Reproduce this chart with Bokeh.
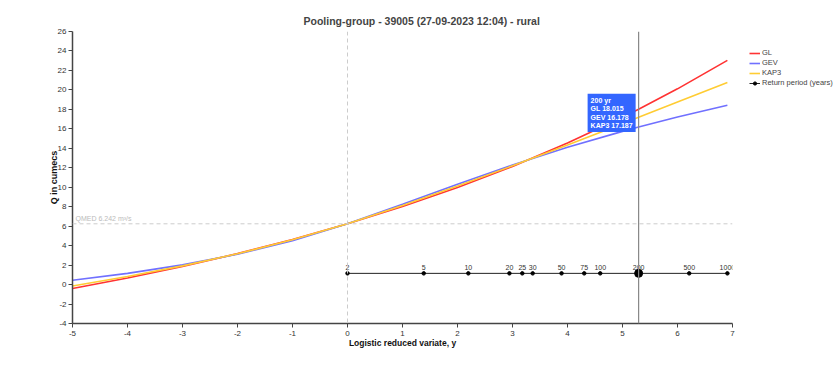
from bokeh.plotting import figure
from bokeh.models import Legend, LegendItem, Label, Span, Range1d, FixedTicker, ColumnDataSource
from bokeh.core.properties import value
from bokeh.embed import file_html
from bokeh.resources import INLINE

# ---- data ----
y_red = [-5, -4, -3, -2, -1, 0, 1, 2, 3, 4, 5, 5.293, 6, 6.907]
gl =   [-0.40, 0.68, 1.87, 3.18, 4.64, 6.242, 8.02, 9.98, 12.14, 14.54, 17.18, 18.015, 20.11, 23.03]
gev =  [0.44, 1.15, 2.02, 3.11, 4.51, 6.242, 8.24, 10.30, 12.28, 14.10, 15.74, 16.178, 17.22, 18.43]
kap3 = [-0.15, 0.82, 1.92, 3.16, 4.60, 6.242, 8.12, 10.12, 12.20, 14.34, 16.53, 17.187, 18.75, 20.76]

rp_labels = ["2", "5", "10", "20", "25", "30", "50", "75", "100", "200", "500", "1000"]
rp_y = [0.0, 1.386, 2.197, 2.944, 3.178, 3.367, 3.892, 4.304, 4.595, 5.293, 6.213, 6.907]
rp_level = 1.15

qmed = 6.242
sel_y = 5.293
sel_top = 19.6
sel_text = "200 yr\nGL 18.015\nGEV 16.178\nKAP3 17.187"

x_ticks = list(range(-5, 8))
y_ticks = list(range(-4, 27, 2))

FONT = "Liberation Sans"

p = figure(frame_width=660, frame_height=292, output_backend="svg", toolbar_location=None,
           x_range=Range1d(-5, 7), y_range=Range1d(-4, 26),
           min_border_left=72, min_border_right=0, min_border_top=31, min_border_bottom=53,
           title="Pooling-group - 39005 (27-09-2023 12:04) - rural")
p.title.align = "left"
p.title.offset = 231
p.title.text_font = FONT
p.title.text_font_size = "10.5px"
p.title.text_font_style = "bold"
p.outline_line_color = None
p.xgrid.visible = False
p.ygrid.visible = False

for ax in (p.xaxis[0], p.yaxis[0]):
    ax.axis_line_color = "#444444"
    ax.axis_line_width = 1.5
    ax.major_tick_line_color = "#444444"
    ax.major_tick_in = 0
    ax.major_tick_out = 4
    ax.minor_tick_line_color = None
    ax.major_label_text_font = FONT
    ax.major_label_text_font_size = "8px"
    ax.major_label_text_color = "#333333"
    ax.axis_label_text_font = FONT
    ax.axis_label_text_font_style = "bold"
    ax.axis_label_text_color = "#111111"

p.xaxis.axis_label_text_font_size = "8.5px"
p.yaxis.axis_label_text_font_size = "9px"
p.xaxis.ticker = FixedTicker(ticks=x_ticks)
p.yaxis.ticker = FixedTicker(ticks=y_ticks)
p.xaxis.major_label_overrides = {t: str(t) for t in x_ticks}
p.yaxis.major_label_overrides = {t: str(t) for t in y_ticks}
p.xaxis.axis_label = "Logistic reduced variate, y"
p.yaxis.axis_label = "Q in cumecs"
p.xaxis.major_label_standoff = 3
p.yaxis.major_label_standoff = 2
p.xaxis.axis_label_standoff = -1
p.yaxis.axis_label_standoff = -4

# reference lines
p.add_layout(Span(location=0, dimension="height", line_color="#cccccc", line_dash="4 3", line_width=1))
p.add_layout(Span(location=qmed, dimension="width", line_color="#cccccc", line_dash="4 3", line_width=1))
p.add_layout(Label(x=-5, y=qmed, x_offset=3, y_offset=2, text="QMED 6.242 m\u00b3/s",
                   text_font=FONT, text_font_size="7px", text_color="#bbbbbb"))
p.add_layout(Span(location=sel_y, dimension="height", line_color="#888888", line_width=1.2))

# curves
r_gl = p.line(y_red, gl, line_color="#ff3333", line_width=1.6)
r_gev = p.line(y_red, gev, line_color="#7070ff", line_width=1.6)
r_kap = p.line(y_red, kap3, line_color="#ffcc33", line_width=1.6)

# return period axis
src = ColumnDataSource(dict(x=rp_y, y=[rp_level] * len(rp_y), t=rp_labels))
r_rp = p.line("x", "y", source=src, line_color="#222222", line_width=1)
r_rpd = p.scatter("x", "y", source=src, size=3.5, color="black")
p.text("x", "y", text="t", source=src, text_font=value(FONT), text_font_size="7px",
       text_align="center", text_baseline="bottom", y_offset=-3, text_color="#333333")
sel_idx = rp_labels.index("200")
p.scatter([rp_y[sel_idx]], [rp_level], size=8, color="black")

# tooltip box
p.add_layout(Label(x=sel_y, y=sel_top, x_offset=-51, text=sel_text, text_align="left", text_baseline="top",
                   text_font=FONT, text_font_size="7px", text_font_style="bold", text_color="white",
                   background_fill_color="#3366ff", padding=3, text_line_height=1.2))

legend = Legend(items=[LegendItem(label="GL", renderers=[r_gl]),
                       LegendItem(label="GEV", renderers=[r_gev]),
                       LegendItem(label="KAP3", renderers=[r_kap]),
                       LegendItem(label="Return period (years)", renderers=[r_rp, r_rpd])],
                location="top_left", label_text_font=FONT, label_text_font_size="7.5px",
                label_height=8, glyph_height=8, glyph_width=11, spacing=1, padding=0, margin=17,
                background_fill_alpha=0, border_line_color=None, label_standoff=2)
p.add_layout(legend, "right")

open("out.html", "w").write(file_html(p, INLINE))
